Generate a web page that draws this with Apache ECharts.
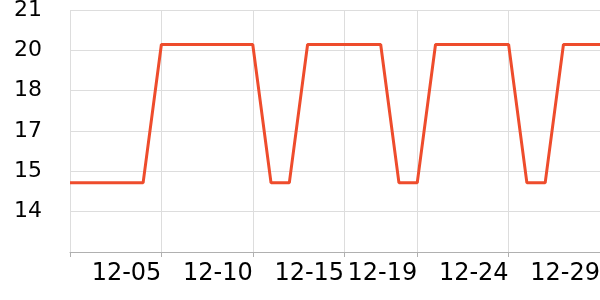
<!DOCTYPE html>
<html><head><meta charset="utf-8">
<script src="https://cdn.jsdelivr.net/npm/echarts@6/dist/echarts.min.js"></script>
<style>html,body{margin:0;padding:0;background:#fff}#c{width:600px;height:300px}</style>
</head><body><div id="c"></div>
<script>
const categories = ['11-30','12-01','12-02','12-03','12-04','12-05','12-06','12-07','12-08','12-09','12-10','12-11','12-12','12-13','12-14','12-15','12-16','12-17','12-18','12-19','12-20','12-21','12-22','12-23','12-24','12-25','12-26','12-27','12-28','12-29'];
const values = [15,15,15,15,15,19.8,19.8,19.8,19.8,19.8,19.8,15,15,19.8,19.8,19.8,19.8,19.8,15,15,19.8,19.8,19.8,19.8,19.8,15,15,19.8,19.8,19.8];
const labelIdx = [5,10,15,19,24,29];
const tickIdx = [0,5,10,15,19,24,29];
const chart = echarts.init(document.getElementById('c'));
chart.setOption({
  animation:false,
  grid:{left:70,right:0,top:10,bottom:48,outerBoundsMode:'none',containLabel:false},
  xAxis:{type:'category',data:categories,boundaryGap:false,
    axisLine:{lineStyle:{color:'#b0b0b0'}},
    axisTick:{interval:(i)=>tickIdx.includes(i),length:5,lineStyle:{color:'#b0b0b0'}},
    axisLabel:{interval:(i)=>labelIdx.includes(i),align:'right',margin:10,fontSize:24,color:'#000',fontFamily:'DejaVu Sans'},
    splitLine:{show:true,interval:(i)=>tickIdx.includes(i),lineStyle:{color:'#dddddd'}}},
  yAxis:{type:'value',min:12.6,max:21,interval:1.4,
    axisLine:{show:false},axisTick:{show:false},
    axisLabel:{showMinLabel:false,formatter:(v)=>String(Math.round(v)),margin:28,fontSize:22,color:'#000',fontFamily:'DejaVu Sans'},
    splitLine:{lineStyle:{color:'#dddddd'}}},
  series:[{type:'line',data:values,symbol:'none',lineStyle:{color:'#ee4c2c',width:3},itemStyle:{color:'#ee4c2c'}}]
});
</script></body></html>
